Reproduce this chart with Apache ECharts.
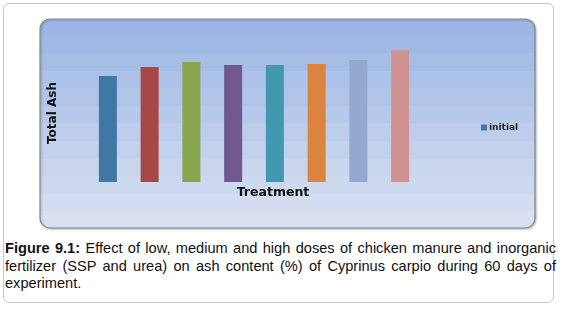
<!DOCTYPE html>
<html>
<head>
<meta charset="utf-8">
<script src="https://cdn.jsdelivr.net/npm/echarts@6/dist/echarts.min.js"></script>
<style>
	html, body { margin: 0; padding: 0; background: #fff; }
	#frame {
		position: absolute; left: 3px; top: 3px; width: 551px; height: 300px;
		border: 1.5px solid #c8c8c8; border-radius: 6px; box-sizing: border-box;
	}
	#chart { position: absolute; left: 0; top: 0; width: 562px; height: 236px; }
	#caption {
		position: absolute; left: 5px; top: 240px; width: 551px;
		font-family: "Liberation Sans", Arial, sans-serif; font-size: 14.6px;
		line-height: 17.6px; color: #111; text-align: justify;
	}
</style>
</head>
<body>
<div id="frame"></div>
<div id="chart"></div>
<div id="caption"><b>Figure 9.1:</b> Effect of low, medium and high doses of chicken manure and inorganic fertilizer (SSP and urea) on ash content (%) of Cyprinus carpio during 60 days of experiment.</div>
<script>
	'use strict';

	// treatments (no tick labels shown in the figure)
	var treatments = ['T1', 'T2', 'T3', 'T4', 'T5', 'T6', 'T7', 'T8'];
	var ashValues = [10.6, 11.5, 12.0, 11.7, 11.7, 11.8, 12.2, 13.2];
	var barColors = ['#4177a5', '#a84846', '#89a54e', '#71588f', '#4298af', '#db843d', '#93a9cf', '#d09392'];
	var seriesName = 'initial';

	var chart = echarts.init(document.getElementById('chart'), null, { renderer: 'canvas' });

	// banded blue background of the chart panel
	var bands = [];
	var nBands = 12;
	for (var i = 0; i <= nBands; i++) {
		var t = i / nBands;
		var r = Math.round(155 + (222 - 155) * t);
		var g = Math.round(182 + (228 - 182) * t);
		var b = Math.round(228 + (242 - 228) * t);
		var c = 'rgb(' + r + ',' + g + ',' + b + ')';
		if (i > 0) bands.push({ offset: t - 0.0001, color: bands[bands.length - 1].color });
		bands.push({ offset: t, color: c });
	}

	var option = {
		animation: false,
		graphic: [{
			type: 'rect',
			shape: { x: 40, y: 19, width: 495, height: 209, r: 10 },
			style: {
				fill: new echarts.graphic.LinearGradient(0, 0, 0, 1, bands),
				stroke: '#8a8a8a', lineWidth: 1.2,
				shadowColor: 'rgba(0,0,0,0.25)', shadowBlur: 2, shadowOffsetX: 1, shadowOffsetY: 1
			},
			z: -10
		}],
		grid: { left: 87, right: 562 - 421, top: 44, bottom: 236 - 182 },
		xAxis: {
			type: 'category',
			data: treatments,
			name: 'Treatment',
			nameLocation: 'middle',
			nameGap: 4,
			nameTextStyle: { fontFamily: 'DejaVu Sans', fontWeight: 'bold', fontSize: 12.5, color: '#111', padding: [0, 0, 0, 38] },
			axisLine: { show: false },
			axisTick: { show: false },
			axisLabel: { show: false }
		},
		yAxis: {
			type: 'value',
			min: 0,
			max: 13.8,
			name: 'Total Ash',
			nameLocation: 'middle',
			nameRotate: 90,
			nameGap: 28,
			nameTextStyle: { fontFamily: 'DejaVu Sans', fontWeight: 'bold', fontSize: 12, color: '#111' },
			axisLine: { show: false },
			axisTick: { show: false },
			axisLabel: { show: false },
			splitLine: { show: false }
		},
		legend: {
			left: 476,
			top: 118,
			itemWidth: 6,
			itemHeight: 6,
			itemGap: 4,
			data: [{ name: seriesName, icon: 'rect', itemStyle: { color: barColors[0] } }],
			textStyle: { fontFamily: 'DejaVu Sans', fontWeight: 'bold', fontSize: 9, color: '#222', padding: [0, 0, 0, -3] }
		},
		series: [{
			name: seriesName,
			type: 'bar',
			barWidth: 18,
			data: ashValues.map(function(v, idx) {
				return { value: v, itemStyle: { color: barColors[idx] } };
			})
		}]
	};

	chart.setOption(option);
</script>
</body>
</html>
